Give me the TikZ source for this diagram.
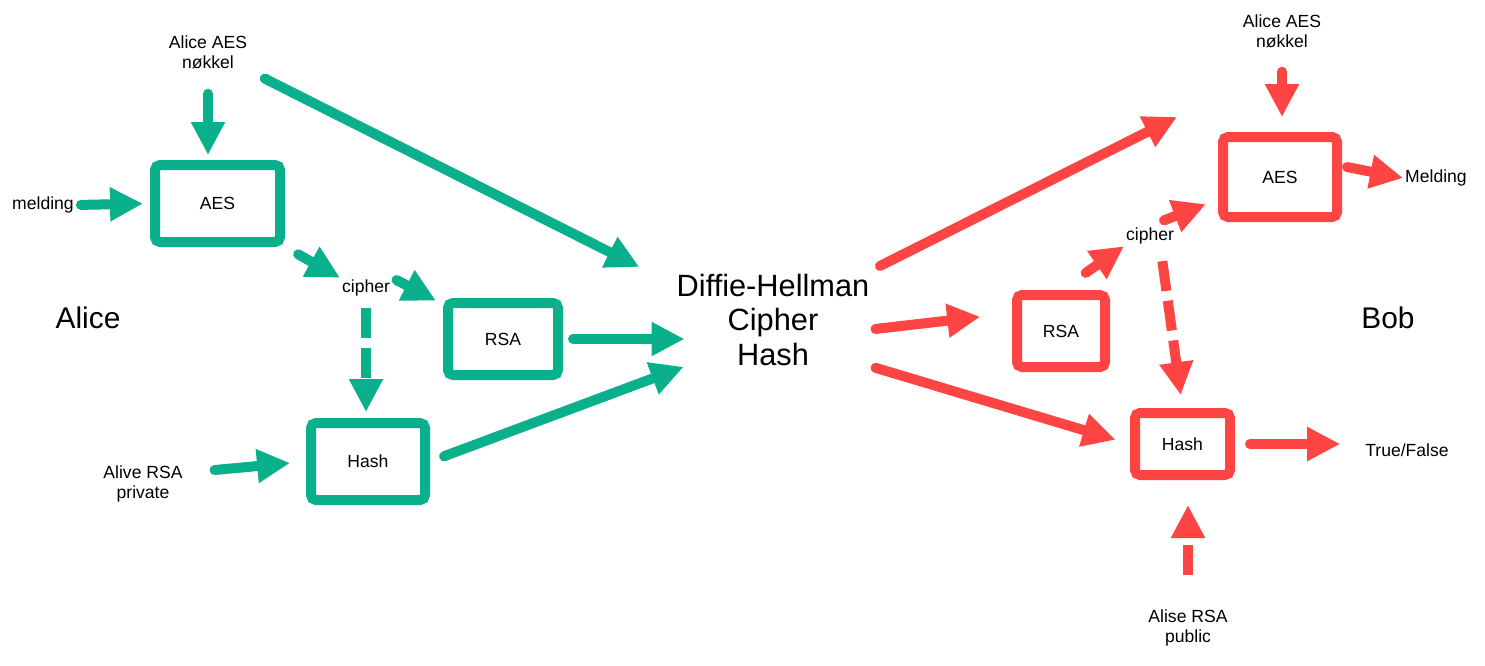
\documentclass[tikz,border=0pt]{standalone}
\usepackage{fontspec}
\setmainfont{Liberation Sans}
\usepackage{tikz}
\usetikzlibrary{arrows.meta,positioning}
\definecolor{alicegreen}{RGB}{10,175,140}
\definecolor{bobred}{RGB}{255,68,68}
\tikzstyle{box} = [draw, line width=2mm, rounded corners=1mm, fill=white, font=\fontsize{10}{11.5}\selectfont]
\tikzstyle{gbox} = [box, draw=alicegreen]
\tikzstyle{rbox} = [box, draw=bobred]
\tikzstyle{lbl} = [font=\fontsize{10}{11.5}\selectfont, align=center, inner sep=1pt]
\tikzstyle{big} = [font=\fontsize{17}{20}\selectfont, align=center]
\tikzstyle{arrow} = [line width=2mm, line cap=round, -{Triangle[length=6.6mm,width=6.4mm]}]
\tikzstyle{garrow} = [arrow, color=alicegreen]
\tikzstyle{rarrow} = [arrow, color=bobred]
\tikzstyle{dashedarrow} = [line cap=butt, dash pattern=on 6mm off 2mm]

\begin{document}
\begin{tikzpicture}[x=0.2mm, y=-0.2mm]
    \useasboundingbox (0,0) rectangle (1485,666);

    % Alice
    \node[big] (alice) at (88,318) {Alice};
    \node[lbl] (keyA) at (208,52) {Alice AES\\nøkkel};
    \node[lbl] (msgA) at (43,205) {melding};
    \node[lbl] (privA) at (143,484) {Alive RSA\\private};
    \node[lbl] (cA) at (366,288) {cipher};
    \node[gbox, minimum width=25mm, minimum height=15.4mm] (aesA) at (217.5,203.5) {AES};
    \node[gbox, minimum width=22mm, minimum height=14.4mm] (rsaA) at (503,339) {RSA};
    \node[gbox, minimum width=22.8mm, minimum height=15.4mm] (hashA) at (368,461.5) {Hash};

    % Midten
    \node[big, font=\fontsize{17.5}{19.5}\selectfont] (dh) at (773,320) {Diffie-Hellman\\Cipher\\Hash};

    % Bob
    \node[big] (bob) at (1388,318) {Bob};
    \node[lbl] (keyB) at (1282,31) {Alice AES\\nøkkel};
    \node[lbl] (msgB) at (1436,178) {Melding};
    \node[lbl] (cB) at (1150,236) {cipher};
    \node[lbl] (tfB) at (1407,450) {True/False};
    \node[lbl] (pubB) at (1188,628) {Alise RSA\\public};
    \node[rbox, minimum width=17.6mm, minimum height=14.4mm] (rsaB) at (1061,331) {RSA};
    \node[rbox, minimum width=22.8mm, minimum height=16mm] (aesB) at (1280,177) {AES};
    \node[rbox, minimum width=19mm, minimum height=12.4mm] (hashB) at (1182.5,444) {Hash};
    \coordinate (keyin) at (1177,117);

    % Piler Alice
    \draw[garrow, shorten <=4.6mm, shorten >=1mm] (keyA.south) -- (keyA.south |- aesA.north);
    \draw[garrow, shorten <=1mm, shorten >=1.4mm] (msgA.east) -- (aesA.west);
    \draw[garrow, shorten <=3mm] (aesA.south east) -- (cA.north west);
    \draw[garrow, shorten <=1mm, shorten >=1.6mm] (cA.north east) -- (rsaA.150);
    \draw[garrow, dashedarrow, shorten <=2mm, shorten >=1.2mm] (cA.south) -- (cA.south |- hashA.north);
    \draw[garrow, shorten <=6mm, shorten >=3.2mm] (privA.15) -- (hashA.west);
    \draw[garrow, shorten <=3.5mm, shorten >=7mm] (keyA.south east) -- (dh.160);
    \draw[garrow, shorten <=2mm, shorten >=-2.8mm] (rsaA.east) -- (rsaA.east -| dh.west);
    \draw[garrow, shorten <=3mm, shorten >=-2.8mm] (hashA.east) -- (dh.south west);

    % Piler Bob
    \draw[rarrow, shorten <=1mm] (dh.north east) -- (keyin);
    \draw[rarrow, shorten >=6.4mm] (dh.-5) -- (rsaB.160);
    \draw[rarrow, shorten >=3mm] (dh.-25) -- (hashB.west);
    \draw[rarrow, shorten <=6mm] (rsaB.north) -- (cB.south west);
    \draw[rarrow, shorten <=3mm, shorten >=2.6mm] (cB.north) -- (aesB.200);
    \draw[rarrow, shorten <=4.4mm, shorten >=3mm] (keyB.south) -- (keyB.south |- aesB.north);
    \draw[rarrow, shorten <=1mm] (aesB.10) -- (msgB.west);
    \draw[rarrow, dashedarrow, shorten <=3mm, shorten >=2.6mm] (cB.-45) -- (hashB.north);
    \draw[rarrow, shorten <=3mm, shorten >=4.6mm] (hashB.east) -- (hashB.east -| tfB.west);
    \draw[rarrow, dashedarrow, shorten <=6.6mm, shorten >=5mm] (pubB.north) -- (pubB.north |- hashB.south);
\end{tikzpicture}
\end{document}
